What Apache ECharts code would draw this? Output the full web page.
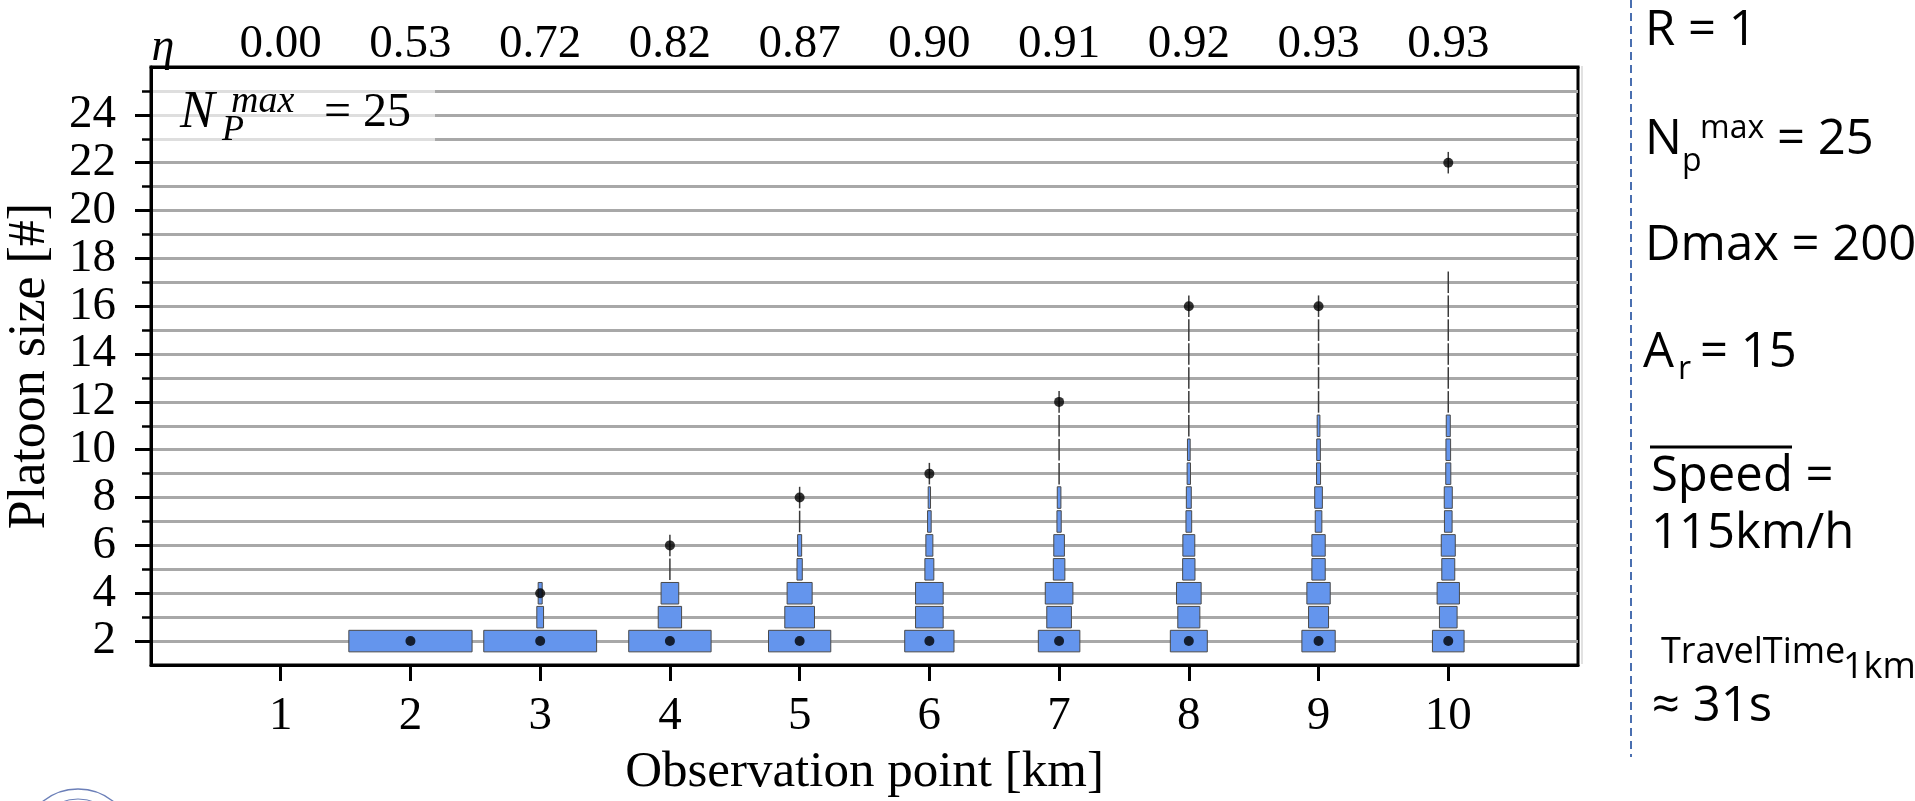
<!DOCTYPE html>
<html>
<head>
<meta charset="utf-8">
<script src="https://cdn.jsdelivr.net/npm/echarts@6/dist/echarts.min.js"></script>
</head>
<body style="margin:0;background:#fff">
<div id="main" style="width:1915px;height:801px;"></div>
<script>
// observation points (km) and the eta value printed above each one
var positions = [1, 2, 3, 4, 5, 6, 7, 8, 9, 10];
var etaLabels = ['0.00', '0.53', '0.72', '0.82', '0.87', '0.90', '0.91', '0.92', '0.93', '0.93'];
var yLabels = [2, 4, 6, 8, 10, 12, 14, 16, 18, 20, 22, 24];
var yMinor = [3, 5, 7, 9, 11, 13, 15, 17, 19, 21, 23, 25];

// box widths (in km units) for each platoon size, starting at size 2
var km1 = [];
var km2 = [0.95];
var km3 = [0.87, 0.052, 0.031];
var km4 = [0.635, 0.18, 0.136, 0.01, 0.01];
var km5 = [0.48, 0.229, 0.193, 0.041, 0.031, 0.01, 0.01];
var km6 = [0.38, 0.213, 0.213, 0.069, 0.054, 0.028, 0.018, 0.01];
var km7 = [0.32, 0.19, 0.213, 0.089, 0.082, 0.033, 0.028, 0.012, 0.01, 0.01, 0.01];
var km8 = [0.285, 0.17, 0.19, 0.095, 0.092, 0.044, 0.038, 0.026, 0.021, 0.012, 0.01, 0.01, 0.01, 0.01, 0.01];
var km9 = [0.257, 0.154, 0.18, 0.103, 0.103, 0.051, 0.059, 0.031, 0.028, 0.021, 0.015, 0.01, 0.01, 0.01, 0.01];
var km10 = [0.244, 0.136, 0.172, 0.1, 0.108, 0.059, 0.062, 0.039, 0.036, 0.031, 0.015, 0.01, 0.01, 0.01, 0.01, 0.01, 0, 0, 0, 0, 0.01];

// black dots: median and largest platoon per observation point
var medians = [null, 2, 2, 2, 2, 2, 2, 2, 2, 2];
var maxima = [null, null, 4, 6, 8, 9, 12, 16, 16, 22];

var widthsAll = [km1, km2, km3, km4, km5, km6, km7, km8, km9, km10];
var boxData = [];
widthsAll.forEach(function (ws, i) {
  ws.forEach(function (w, j) {
    if (w > 0) boxData.push([positions[i], j + 2, w]);
  });
});
var dotData = [];
positions.forEach(function (p, i) {
  if (medians[i] != null) dotData.push([p, medians[i]]);
  if (maxima[i] != null) dotData.push([p, maxima[i]]);
});

var serif = 'Liberation Serif';
var sans = 'Open Sans';
var gridColor = '#a8a8a8';

function renderBox(params, api) {
  var x = api.value(0), lv = api.value(1), w = api.value(2);
  var p1 = api.coord([x - w / 2, lv + 0.45]);
  var p2 = api.coord([x + w / 2, lv - 0.45]);
  var pw = p2[0] - p1[0];
  // very narrow boxes read as a dark whisker line
  var thin = pw < 2;
  return {
    type: 'rect',
    shape: { x: thin ? p1[0] + pw / 2 - 0.75 : p1[0], y: p1[1], width: thin ? 1.5 : pw, height: p2[1] - p1[1] },
    style: thin ? { fill: '#3a3a3a', stroke: null } : { fill: '#6495ed', stroke: '#4a4a4a', lineWidth: 1 }
  };
}

var myChart = echarts.init(document.getElementById('main'));
var option = {
  animation: false,
  backgroundColor: '#fff',
  grid: {
    left: 151, top: 67, width: 1427, height: 598, show: true, borderColor: '#000', borderWidth: 3,
    outerBoundsMode: 'none', containLabel: false
  },
  xAxis: [{
    type: 'value', min: 0, max: 11, interval: 1, position: 'bottom',
    name: 'Observation point [km]', nameLocation: 'middle', nameGap: 82,
    nameTextStyle: { fontFamily: serif, fontSize: 51, color: '#000' },
    axisLine: { lineStyle: { color: '#000', width: 3 } },
    axisTick: { customValues: positions, length: 16, lineStyle: { color: '#000', width: 3 } },
    axisLabel: { customValues: positions, margin: 28, fontFamily: serif, fontSize: 47, color: '#000' },
    splitLine: { show: false }
  }, {
    type: 'value', min: 0, max: 11, interval: 1, position: 'top',
    axisLine: { lineStyle: { color: '#000', width: 3 } },
    axisTick: { show: false },
    axisLabel: {
      customValues: positions, margin: -1, fontFamily: serif, fontSize: 47, color: '#000',
      formatter: function (v) { return etaLabels[v - 1]; }
    },
    splitLine: { show: false }
  }],
  yAxis: [{
    type: 'value', min: 1, max: 26, interval: 1,
    name: 'Platoon size [#]', nameLocation: 'middle', nameGap: 95, nameRotate: 90,
    nameTextStyle: { fontFamily: serif, fontSize: 52, color: '#000' },
    axisLine: { show: true, lineStyle: { color: '#000', width: 3 } },
    axisTick: { customValues: yLabels, length: 16, lineStyle: { color: '#000', width: 3 } },
    axisLabel: { customValues: yLabels, margin: 35, fontFamily: serif, fontSize: 47, color: '#000' },
    splitLine: { show: true, lineStyle: { color: gridColor, width: 2.8 } }
  }, {
    type: 'value', min: 1, max: 26, interval: 1, position: 'left',
    axisLine: { show: false },
    axisTick: { show: true, customValues: yMinor, length: 9, lineStyle: { color: '#000', width: 2.5 } },
    axisLabel: { show: false },
    splitLine: { show: true, lineStyle: { color: gridColor, width: 2.8 } }
  }],
  series: [{
    type: 'custom',
    renderItem: renderBox,
    encode: { x: 0, y: 1 },
    data: boxData,
    z: 3
  }, {
    type: 'scatter',
    symbolSize: 10,
    itemStyle: { color: '#000' },
    data: dotData,
    z: 5
  }],
  graphic: [
    // legend box
    { type: 'rect', z: 50, shape: { x: 153, y: 77, width: 282, height: 72 }, style: { fill: 'rgba(255,255,255,0.62)' } },
    { type: 'text', z: 51, style: { x: 180, y: 113, text: 'N', font: 'italic 52px ' + serif, fill: '#000', textVerticalAlign: 'middle' } },
    { type: 'text', z: 51, style: { x: 231, y: 102, text: 'max', font: 'italic 38px ' + serif, fill: '#000', textVerticalAlign: 'middle' } },
    { type: 'text', z: 51, style: { x: 222, y: 131, text: 'P', font: 'italic 36px ' + serif, fill: '#000', textVerticalAlign: 'middle' } },
    { type: 'text', z: 51, style: { x: 324, y: 113, text: '= 25', font: '48px ' + serif, fill: '#000', textVerticalAlign: 'middle' } },
    { type: 'text', z: 51, style: { x: 163, y: 48, text: 'η', font: 'italic 46px ' + serif, fill: '#000', textAlign: 'center', textVerticalAlign: 'middle' } },
    // right panel
    { type: 'line', shape: { x1: 1582, y1: 66, x2: 1582, y2: 664 }, style: { stroke: '#e2e2e2', lineWidth: 2 } },
    { type: 'line', shape: { x1: 1631, y1: 0, x2: 1631, y2: 757 }, style: { stroke: '#4a6fb0', lineWidth: 2, lineDash: [8, 5] } },
    { type: 'text', style: { x: 1645, y: 31, text: 'R = 1', font: '49px ' + sans, fill: '#000', textVerticalAlign: 'middle' } },
    { type: 'text', style: { x: 1645, y: 140, text: 'N', font: '49px ' + sans, fill: '#000', textVerticalAlign: 'middle' } },
    { type: 'text', style: { x: 1682, y: 162, text: 'p', font: '32px ' + sans, fill: '#000', textVerticalAlign: 'middle' } },
    { type: 'text', style: { x: 1700, y: 129, text: 'max', font: '32px ' + sans, fill: '#000', textVerticalAlign: 'middle' } },
    { type: 'text', style: { x: 1777, y: 140, text: '= 25', font: '49px ' + sans, fill: '#000', textVerticalAlign: 'middle' } },
    { type: 'text', style: { x: 1645, y: 246, text: 'Dmax = 200', font: '49px ' + sans, fill: '#000', textVerticalAlign: 'middle' } },
    { type: 'text', style: { x: 1643, y: 353, text: 'A', font: '49px ' + sans, fill: '#000', textVerticalAlign: 'middle' } },
    { type: 'text', style: { x: 1678, y: 370, text: 'r', font: '32px ' + sans, fill: '#000', textVerticalAlign: 'middle' } },
    { type: 'text', style: { x: 1700, y: 353, text: '= 15', font: '49px ' + sans, fill: '#000', textVerticalAlign: 'middle' } },
    { type: 'line', shape: { x1: 1650, y1: 447, x2: 1792, y2: 447 }, style: { stroke: '#000', lineWidth: 3 } },
    { type: 'text', style: { x: 1651, y: 477, text: 'Speed =', font: '49px ' + sans, fill: '#000', textVerticalAlign: 'middle' } },
    { type: 'text', style: { x: 1651, y: 534, text: '115km/h', font: '49px ' + sans, fill: '#000', textVerticalAlign: 'middle' } },
    { type: 'text', style: { x: 1661, y: 653, text: 'TravelTime', font: '36px ' + sans, fill: '#000', textVerticalAlign: 'middle' } },
    { type: 'text', style: { x: 1843, y: 668, text: '1km', font: '36px ' + sans, fill: '#000', textVerticalAlign: 'middle' } },
    { type: 'text', style: { x: 1652, y: 707, text: '≈ 31s', font: '49px ' + sans, fill: '#000', textVerticalAlign: 'middle' } },
    // partial seal at the bottom left
    { type: 'circle', shape: { cx: 78, cy: 845, r: 56 }, style: { fill: 'none', stroke: '#6b7fb8', lineWidth: 1.5 } },
    { type: 'circle', shape: { cx: 78, cy: 845, r: 46 }, style: { fill: 'none', stroke: '#6b7fb8', lineWidth: 1 } }
  ]
};
myChart.setOption(option);
</script>
</body>
</html>
